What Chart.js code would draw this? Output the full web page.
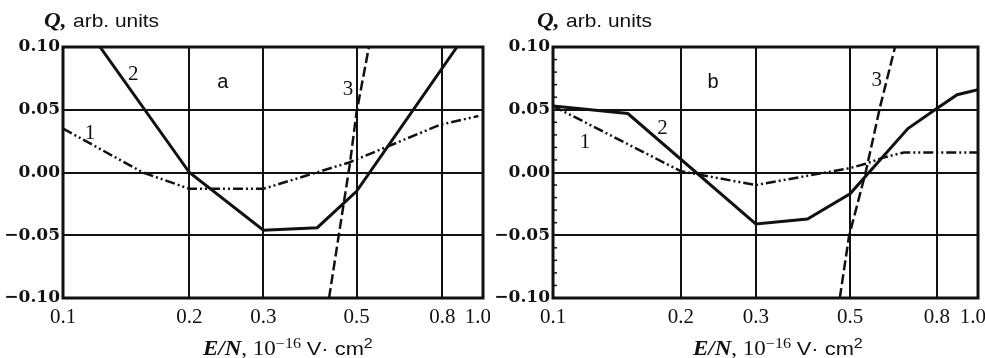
<!DOCTYPE html>
<html>
<head>
<meta charset="utf-8">
<script src="https://cdn.jsdelivr.net/npm/chart.js@4/dist/chart.umd.min.js"></script>
<style>
  body { margin: 0; background: #fff; }
  #wrap { position: relative; width: 985px; height: 358px; overflow: hidden; }
  canvas { position: absolute; top: 0; }
  .yt { position: absolute; top: 9px; font-family: "Liberation Sans", Arial, sans-serif; font-size: 19px; line-height: 22px; color: #111; transform: scaleX(1.1); transform-origin: left; white-space: nowrap; }
  .yt b { font-family: "Liberation Serif", serif; font-style: italic; font-size: 21px; margin-right: 6px; }
  .xt { position: absolute; top: 337px; font-family: "Liberation Serif", serif; font-size: 20px; line-height: 22px; color: #111; transform: scaleX(1.15); transform-origin: left; white-space: nowrap; }
  .xt b { font-style: italic; }
  .xt sup { font-size: 14px; vertical-align: 7px; line-height: 0; }
  .xt .s { font-family: "Liberation Sans", Arial, sans-serif; font-size: 19px; }
</style>
</head>
<body>
<div id="wrap">
  <canvas id="chartA" width="490" height="358" style="left:0"></canvas>
  <canvas id="chartB" width="495" height="358" style="left:490px"></canvas>
  <div class="yt" style="left:44px"><b>Q,</b>arb. units</div>
  <div class="yt" style="left:537px"><b>Q,</b>arb. units</div>
  <div class="xt" style="left:203px"><b>E/N</b>, 10<sup>&minus;16</sup> <span class="s">V&middot; cm<sup>2</sup></span></div>
  <div class="xt" style="left:693px"><b>E/N</b>, 10<sup>&minus;16</sup> <span class="s">V&middot; cm<sup>2</sup></span></div>
</div>
<script>
const xTicks = [0.1, 0.2, 0.3, 0.5, 0.8, 1.0];
const yTicks = [-0.10, -0.05, 0.00, 0.05, 0.10];

// panel a
const a1X = [0.1, 0.155, 0.2, 0.3, 0.48, 0.79, 0.975];
const a1Y = [0.035, 0.0, -0.013, -0.013, 0.008, 0.038, 0.045];
const a2X = [0.1225, 0.2, 0.3, 0.403, 0.5, 0.867];
const a2Y = [0.10, 0.0, -0.046, -0.044, -0.015, 0.10];
const a3X = [0.43, 0.482, 0.5, 0.535];
const a3Y = [-0.10, 0.007, 0.048, 0.10];

// panel b
const b1X = [0.1, 0.2, 0.3, 0.5, 0.544, 0.6, 0.67, 1.0];
const b1Y = [0.053, 0.001, -0.010, 0.0035, 0.007, 0.012, 0.016, 0.016];
const b2X = [0.1, 0.15, 0.3, 0.397, 0.5, 0.684, 0.80, 0.893, 1.0];
const b2Y = [0.053, 0.047, -0.041, -0.037, -0.017, 0.035, 0.051, 0.062, 0.066];
const b3X = [0.473, 0.497, 0.544, 0.588, 0.638];
const b3Y = [-0.10, -0.051, 0.0, 0.052, 0.10];

// curve labels (data coordinates)
const labelsA = [
    { text: '1', x: 0.116, y: 0.031, font: '21px "Liberation Serif"' },
    { text: '2', x: 0.147, y: 0.078, font: '21px "Liberation Serif"' },
    { text: '3', x: 0.477, y: 0.066, font: '21px "Liberation Serif"' },
    { text: 'a', x: 0.240, y: 0.072, font: '20px "Liberation Sans"' }
];
const labelsB = [
    { text: '1', x: 0.119, y: 0.024, font: '21px "Liberation Serif"' },
    { text: '2', x: 0.181, y: 0.035, font: '21px "Liberation Serif"' },
    { text: '3', x: 0.578, y: 0.073, font: '21px "Liberation Serif"' },
    { text: 'b', x: 0.238, y: 0.072, font: '20px "Liberation Sans"' }
];

const ink = '#111';

function pts(xs, ys) {
    return xs.map((x, i) => ({ x: x, y: ys[i] }));
}

const framePlugin = {
    id: 'frame',
    afterDraw(chart, args, opts) {
        const { ctx, chartArea: ca, scales } = chart;
        ctx.save();
        ctx.strokeStyle = ink;
        ctx.lineWidth = 3;
        ctx.strokeRect(ca.left, ca.top, ca.right - ca.left, ca.bottom - ca.top);
        if (opts.minor) {
            ctx.lineWidth = 1.5;
            for (let k = -9; k <= 9; k++) {
                if (k % 5 === 0) continue;
                const py = scales.y.getPixelForValue(k / 100);
                ctx.beginPath();
                ctx.moveTo(ca.left, py);
                ctx.lineTo(ca.left + 4, py);
                ctx.stroke();
            }
        }
        ctx.fillStyle = ink;
        ctx.textAlign = 'center';
        ctx.textBaseline = 'middle';
        opts.labels.forEach(l => {
            ctx.font = l.font;
            ctx.fillText(l.text, scales.x.getPixelForValue(l.x), scales.y.getPixelForValue(l.y));
        });
        ctx.restore();
    }
};

function makeChart(id, s1, s2, s3, labels, rightPad, minor) {
    return new Chart(document.getElementById(id), {
        type: 'line',
        data: {
            datasets: [
                { label: '1', data: s1, borderColor: ink, borderWidth: 2.5, borderDash: [10, 3, 2, 3, 2, 3] },
                { label: '2', data: s2, borderColor: ink, borderWidth: 3 },
                { label: '3', data: s3, borderColor: ink, borderWidth: 2.5, borderDash: [10, 4] }
            ]
        },
        options: {
            responsive: false,
            animation: false,
            elements: { point: { radius: 0 }, line: { tension: 0 } },
            layout: { padding: { top: 47, right: rightPad, left: 0, bottom: 0 } },
            plugins: {
                legend: { display: false },
                tooltip: { enabled: false },
                frame: { labels: labels, minor: minor }
            },
            scales: {
                x: {
                    type: 'logarithmic',
                    min: 0.1,
                    max: 1.0,
                    afterBuildTicks: s => { s.ticks = xTicks.map(v => ({ value: v })); },
                    afterFit: s => { s.height = 60; s.paddingLeft = 0; s.paddingRight = 0; },
                    grid: { color: ink, lineWidth: 2, drawTicks: false },
                    border: { display: false },
                    ticks: {
                        autoSkip: false, maxRotation: 0, minRotation: 0,
                        padding: 7,
                        color: ink,
                        font: { family: '"Liberation Serif"', size: 21 },
                        callback: (v, i) => i === xTicks.length - 1 ? v.toFixed(1) + '\u00a0\u00a0' : v.toFixed(1)
                    }
                },
                y: {
                    min: -0.10,
                    max: 0.10,
                    afterBuildTicks: s => { s.ticks = yTicks.map(v => ({ value: v })); },
                    afterFit: s => { s.width = 63; s.paddingTop = 0; s.paddingBottom = 0; },
                    grid: { color: ink, lineWidth: 2, drawTicks: false },
                    border: { display: false },
                    ticks: {
                        padding: 3,
                        color: ink,
                        font: { family: '"DejaVu Serif"', size: 17, weight: 'bold' },
                        callback: v => (v < -1e-9 ? '\u2212' : '') + Math.abs(v).toFixed(2)
                    }
                }
            }
        },
        plugins: [framePlugin]
    });
}

makeChart('chartA', pts(a1X, a1Y), pts(a2X, a2Y), pts(a3X, a3Y), labelsA, 7, false);
makeChart('chartB', pts(b1X, b1Y), pts(b2X, b2Y), pts(b3X, b3Y), labelsB, 7, true);
</script>
</body>
</html>
